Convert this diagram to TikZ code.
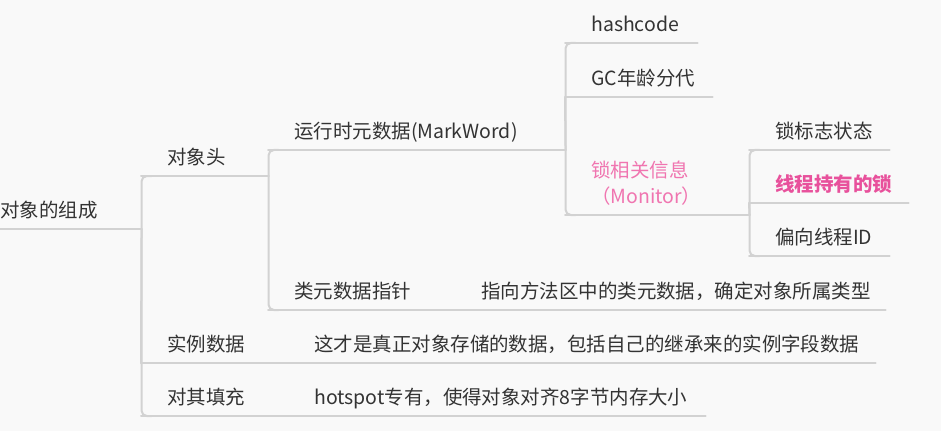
\documentclass[tikz,border=0pt]{standalone}
\usepackage{fontspec}
\setmainfont{Noto Sans CJK SC}
\usepackage{tikz}

\definecolor{ink}{HTML}{333333}
\definecolor{lockpink}{HTML}{F075B0}
\definecolor{ownerpink}{HTML}{E8519C}
\definecolor{rulegray}{HTML}{D2D2D2}
\definecolor{paper}{HTML}{F9F9F9}

% one topic: box of the underline length, text indented from its left end
\newcommand{\topictext}[2]{\makebox[#1][l]{\hspace*{19.5pt}#2}}

\tikzset{
  topic/.style={anchor=south west, inner sep=0, text depth=8.25pt, text=ink,
    font=\fontsize{14.6pt}{19.5pt}\selectfont},
  rule/.style={draw=rulegray, line width=1.5pt, line cap=round},
  link/.style={rule, rounded corners=4pt}
}

\begin{document}
\begin{tikzpicture}[x=0.75pt, y=-0.75pt]
    \fill [paper] (0, 0) rectangle (941, 431);
    \useasboundingbox (0, 0) rectangle (941, 431);

    % root and first level
    \node [topic] (root) at (0, 229) {\makebox[105.75pt][l]{对象的组成}};
    \node [topic] (head) at (141, 176) {\topictext{95.25pt}{对象头}};
    \node [topic] (inst) at (141, 363) {\topictext{89.25pt}{实例数据}};
    \node [topic] (pad) at (141, 416) {\topictext{89.25pt}{对其填充}};

    % object header
    \node [topic] (mark) at (268, 150) {\topictext{222.75pt}{运行时元数据(MarkWord)}};
    \node [topic] (klass) at (268, 310) {\topictext{119.25pt}{类元数据指针}};
    \node [topic] (klassd) at (455, 310) {\topictext{322.5pt}{指向方法区中的类元数据，确定对象所属类型}};
    \node [topic] (instd) at (288, 363) {\topictext{440.25pt}{这才是真正对象存储的数据，包括自己的继承来的实例字段数据}};
    \node [topic] (padd) at (288, 416) {\topictext{312.75pt}{hotspot专有，使得对象对齐8字节内存大小}};

    % mark word
    \node [topic] (hash) at (565, 43) {\topictext{99pt}{hashcode}};
    \node [topic] (gc) at (565, 97) {\topictext{110.25pt}{GC年龄分代}};
    \node [topic, text=lockpink] (lock) at (565, 215)
      {\topictext{138pt}{\begin{tabular}[b]{@{}l@{}}锁相关信息\\（Monitor）\end{tabular}}};

    % lock info
    \node [topic] (flag) at (749, 150) {\topictext{105pt}{锁标志状态}};
    \node [topic, text=ownerpink] (owner) at (749, 203) {\topictext{119.25pt}{\bfseries 线程持有的锁}};
    \node [topic] (bias) at (749, 256) {\topictext{105pt}{偏向线程ID}};

    \foreach \n in {root, head, inst, pad, mark, klass, klassd, instd, padd,
                    hash, gc, lock, flag, owner, bias}
      \draw [rule] (\n.south west) -- (\n.south east);

    \draw [link] (root.south east) |- ([xshift=8pt]head.south west);
    \draw [link] (root.south east) -- (inst.south west);
    \draw [link] (root.south east) |- ([xshift=8pt]pad.south west);

    \draw [link] (head.south east) |- ([xshift=8pt]mark.south west);
    \draw [link] (head.south east) |- ([xshift=8pt]klass.south west);
    \draw [link] (klass.south east) -- (klassd.south west);
    \draw [link] (inst.south east) -- (instd.south west);
    \draw [link] (pad.south east) -- (padd.south west);

    \draw [link] (mark.south east) |- ([xshift=8pt]hash.south west);
    \draw [link] (mark.south east) -- (gc.south west);
    \draw [link] (mark.south east) |- ([xshift=8pt]lock.south west);

    \draw [link] (lock.south east) |- ([xshift=8pt]flag.south west);
    \draw [link] (lock.south east) -- (owner.south west);
    \draw [link] (lock.south east) |- ([xshift=8pt]bias.south west);
  \end{tikzpicture}
\end{document}
